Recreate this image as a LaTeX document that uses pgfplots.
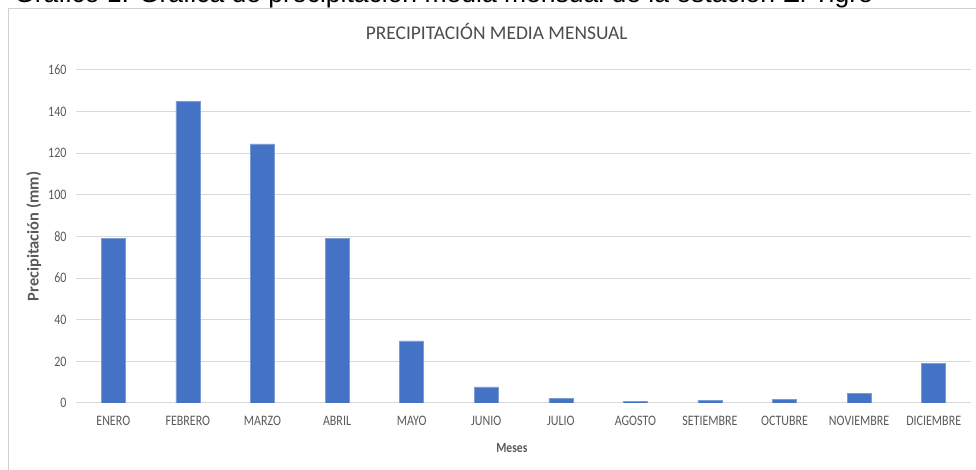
\documentclass[border=0pt]{standalone}
\usepackage{fontspec}
\setmainfont{Carlito}[FakeStretch=0.83]
\newfontfamily\titlefont{Carlito}
\newfontfamily\capfont{Liberation Sans}
\usepackage{pgfplots}
\pgfplotsset{compat=1.18}
\definecolor{barblue}{HTML}{4472C4}
\definecolor{gridgray}{HTML}{D9D9D9}
\definecolor{txtgray}{HTML}{595959}
\definecolor{framegray}{HTML}{D0D0D0}

\pgfplotstableread{
x val
0 79
1 145
2 124.5
3 79
4 29.8
5 7.8
6 2.3
7 0.8
8 1.3
9 1.6
10 4.8
11 19.2
}\precip

\begin{document}
\begin{tikzpicture}[x=1bp,y=1bp]
\clip (0,0) rectangle (976,470);
\useasboundingbox (0,0) rectangle (976,470);
% frame of the chart
\draw[framegray, line width=1bp] (8.5,0) -- (8.5,461.5) -- (980,461.5);
% caption cut at the top of the picture
\node[anchor=base west, inner sep=0pt, font=\capfont\fontsize{26.6}{30}\selectfont]
  at (14,467) {Gráfico 1: Gráfica de precipitación media mensual de la estación El Tigre};
\begin{axis}[
    at={(76bp,67bp)}, anchor=south west,
    scale only axis, width=895bp, height=333bp,
    xmin=-0.5, xmax=11.5, ymin=0, ymax=160,
    ytick={0,20,...,160},
    xtick={0,...,11},
    xticklabels={ENERO,FEBRERO,MARZO,ABRIL,MAYO,JUNIO,JULIO,AGOSTO,SETIEMBRE,OCTUBRE,NOVIEMBRE,DICIEMBRE},
    axis line style={draw=none},
    major tick length=0pt,
    ymajorgrids, grid style={draw=gridgray, line width=1bp},
    /pgf/number format/assume math mode=true,
    tick label style={font=\fontsize{14.5}{16}\selectfont, text=txtgray},
    yticklabel style={xshift=-6bp},
    xticklabel style={yshift=-10bp},
    title={PRECIPITACIÓN MEDIA MENSUAL},
    title style={at={(axis description cs:0.470,1.099)}, anchor=center,
        font=\titlefont\fontsize{19.5}{22}\selectfont, text=txtgray!85!black},
    ylabel={Precipitación (mm)},
    ylabel style={at={(axis description cs:-0.047,0.5)}, anchor=center, rotate=0,
        font=\titlefont\bfseries\fontsize{16.5}{18}\selectfont, text=txtgray},
    xlabel={Meses},
    xlabel style={at={(axis description cs:0.487,-0.135)}, anchor=center,
        font=\bfseries\fontsize{14}{16}\selectfont, text=txtgray},
]
\addplot[ybar, bar width=24bp, fill=barblue, draw=barblue!70!white, line width=0.5bp]
  table[x=x, y=val] {\precip};
\end{axis}
\end{tikzpicture}
\end{document}
